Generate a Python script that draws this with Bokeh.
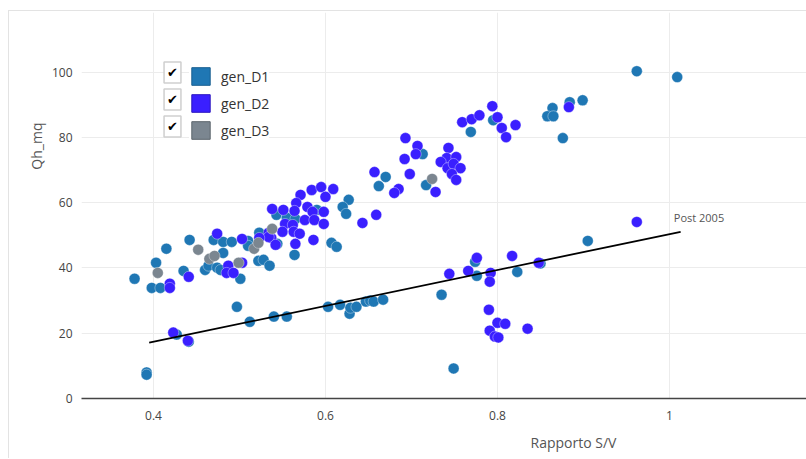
from bokeh.plotting import figure
from bokeh.models import (Range1d, FixedTicker, NumeralTickFormatter, Legend, LegendItem,
                          Label, Title)
from bokeh.core.properties import value
from bokeh.embed import file_html
from bokeh.resources import INLINE

# ---------------- data ----------------
series_names = ["gen_D1", "gen_D2", "gen_D3"]
series_colors = ["#1f77b4", "#3a1fff", "#7b8690"]
swatch_borders = ["#195f90", "#2c17c0", "#5c656c"]

d1_x = [0.962, 1.009, 0.864, 0.858, 0.865, 0.884, 0.899, 0.876, 0.905, 0.795,
        0.769, 0.713, 0.717, 0.670, 0.662, 0.590, 0.627, 0.620, 0.624, 0.543,
        0.555, 0.565, 0.544, 0.564, 0.607, 0.613, 0.378, 0.398, 0.408, 0.403,
        0.415, 0.442, 0.435, 0.460, 0.464, 0.474, 0.470, 0.481, 0.491, 0.481,
        0.478, 0.501, 0.510, 0.510, 0.522, 0.528, 0.535, 0.523, 0.497, 0.512,
        0.540, 0.555, 0.603, 0.617, 0.628, 0.629, 0.636, 0.647, 0.652, 0.656,
        0.667, 0.427, 0.441, 0.392, 0.392, 0.774, 0.776, 0.823, 0.735, 0.749,
        0.850]
d1_y = [100.3, 98.5, 89.0, 86.5, 86.5, 90.8, 91.4, 79.8, 48.3, 85.3,
        81.7, 74.9, 65.4, 67.9, 65.1, 57.8, 60.9, 58.7, 56.6, 56.3,
        55.4, 55.0, 47.4, 44.0, 47.7, 46.5, 36.7, 33.9, 33.9, 41.6,
        45.9, 48.6, 39.1, 39.4, 40.7, 40.1, 48.6, 48.0, 48.0, 44.6,
        39.4, 36.7, 48.3, 46.8, 42.2, 42.5, 40.7, 50.8, 28.1, 23.5,
        25.1, 25.1, 28.1, 28.7, 26.0, 27.8, 28.1, 29.7, 30.0, 29.7,
        30.3, 19.6, 17.4, 8.0, 7.3, 41.9, 37.6, 38.8, 31.8, 9.2,
        41.4]

d2_x = [0.883, 0.962, 0.794, 0.759, 0.770, 0.779, 0.800, 0.805, 0.810, 0.821,
        0.693, 0.707, 0.705, 0.692, 0.698, 0.685, 0.743, 0.741, 0.752, 0.734,
        0.742, 0.749, 0.757, 0.747, 0.752, 0.728, 0.657, 0.680, 0.584, 0.595,
        0.609, 0.600, 0.571, 0.566, 0.564, 0.579, 0.585, 0.598, 0.643, 0.659,
        0.551, 0.538, 0.576, 0.587, 0.598, 0.553, 0.562, 0.550, 0.563, 0.570,
        0.537, 0.565, 0.586, 0.419, 0.419, 0.441, 0.474, 0.487, 0.485, 0.493,
        0.503, 0.503, 0.534, 0.534, 0.542, 0.523, 0.423, 0.440, 0.776, 0.817,
        0.848, 0.744, 0.766, 0.792, 0.791, 0.790, 0.800, 0.809, 0.791, 0.835,
        0.797, 0.801]
d2_y = [89.3, 54.1, 89.6, 84.7, 85.6, 86.8, 86.2, 82.9, 80.1, 83.8,
        79.8, 77.4, 74.9, 73.4, 68.8, 64.2, 76.8, 73.7, 74.0, 72.5,
        70.6, 71.9, 70.6, 68.8, 67.0, 63.3, 69.4, 63.0, 63.9, 64.8,
        64.2, 61.8, 62.4, 59.9, 57.5, 58.7, 57.2, 57.2, 53.8, 56.3,
        57.8, 58.1, 54.7, 54.7, 53.5, 53.5, 53.2, 51.1, 51.1, 50.5,
        49.2, 47.4, 48.6, 35.2, 33.9, 37.3, 50.5, 40.7, 38.5, 38.5,
        41.6, 48.9, 50.8, 49.5, 47.1, 49.2, 20.2, 17.7, 43.1, 43.7,
        41.6, 38.2, 39.1, 38.5, 35.8, 27.2, 23.2, 22.9, 20.8, 21.4,
        19.0, 18.7]

d3_x = [0.724, 0.538, 0.405, 0.452, 0.465, 0.471, 0.499, 0.517, 0.522]
d3_y = [67.3, 52.0, 38.5, 45.6, 42.8, 43.7, 41.6, 45.9, 47.7]

trend_x = [0.395, 1.013]
trend_y = [17.1, 51.1]
trend_label = "Post 2005"
trend_label_x = [1.005]
trend_label_y = [55.4]

x_ticks = [0.4, 0.6, 0.8, 1.0]
y_ticks = [0, 20, 40, 60, 80, 100]
x_title = "Rapporto S/V"
y_title = "Qh_mq"

FONT = "Open Sans"
NAN = float("nan")

# ---------------- figure ----------------
p = figure(width=798, height=448, output_backend="svg", toolbar_location=None,
           x_range=Range1d(0.3163, 1.1605), y_range=Range1d(0, 118.3),
           min_border_left=72, min_border_right=0, min_border_top=1, min_border_bottom=61,
           margin=(10, 0, 0, 8))
p.styles = {"border-top": "1px solid #e3e3e3", "border-left": "1px solid #e3e3e3"}
p.outline_line_color = None
p.background_fill_color = "white"
p.border_fill_color = "white"

# grids
p.xgrid.ticker = FixedTicker(ticks=x_ticks)
p.ygrid.ticker = FixedTicker(ticks=y_ticks)
p.xgrid.grid_line_color = "#ececec"
p.ygrid.grid_line_color = "#ececec"

# axes
xa = p.xaxis[0]
xa.ticker = FixedTicker(ticks=x_ticks)
xa.formatter = NumeralTickFormatter(format="0.[0]")
xa.axis_line_color = "#444444"
xa.axis_line_width = 1.5
xa.major_tick_line_color = None
xa.minor_tick_line_color = None
xa.major_label_standoff = 6
xa.major_label_text_font = FONT
xa.major_label_text_font_size = "12px"
xa.major_label_text_color = "#444444"

ya = p.yaxis[0]
ya.ticker = FixedTicker(ticks=y_ticks)
ya.axis_line_color = None
ya.major_tick_line_color = None
ya.minor_tick_line_color = None
ya.major_label_standoff = 3
ya.major_label_text_font = FONT
ya.major_label_text_font_size = "12px"
ya.major_label_text_color = "#444444"

# axis titles (as side titles so they can sit off-centre like the reference)
p.add_layout(Title(text=x_title, align="left", offset=449, standoff=16,
                   text_font=FONT, text_font_size="14px", text_font_style="normal",
                   text_color="#555555"), "below")
p.add_layout(Title(text=y_title, align="right", offset=110, standoff=5,
                   text_font=FONT, text_font_size="14px", text_font_style="normal",
                   text_color="#555555"), "left")

# scatter series
for xs, ys, c in [(d1_x, d1_y, series_colors[0]), (d2_x, d2_y, series_colors[1]),
                  (d3_x, d3_y, series_colors[2])]:
    p.scatter(xs, ys, size=11, fill_color=c, line_color="white", line_width=0.6,
              line_alpha=0.6)

# trend line and label
p.line(trend_x, trend_y, line_color="black", line_width=1.8)
p.text(x=trend_label_x, y=trend_label_y, text=[trend_label], text_font=value(FONT),
       text_font_size="11px", text_color="#555555", text_align="left",
       text_baseline="middle")

# legend swatches (square, like the reference); NaN rows draw nothing in the plot
items = []
for name, c, b in zip(series_names, series_colors, swatch_borders):
    q = p.quad(left=[NAN], right=[NAN], top=[NAN], bottom=[NAN], fill_color=c,
               line_color=b, line_width=1)
    items.append(LegendItem(label=name, renderers=[q]))

legend = Legend(items=items, location=(108, 257), glyph_width=23, glyph_height=22,
                label_height=22, spacing=5, padding=4, margin=0, label_standoff=9,
                border_line_color=None, background_fill_color="white",
                background_fill_alpha=1.0, label_text_font=FONT,
                label_text_font_size="14px", label_text_color="#333333")
p.add_layout(legend, "center")

# checkboxes next to legend entries
for yy in [326, 299, 272]:
    p.add_layout(Label(x=91, y=yy, x_units="screen", y_units="screen", text="\u2714",
                       text_font="DejaVu Sans", text_font_size="13px",
                       text_color="black", text_align="center", text_baseline="middle",
                       border_line_color="#cfcfcf", border_line_width=1.5,
                       background_fill_color="white", padding=3))

open("out.html", "w").write(file_html(p, INLINE))
